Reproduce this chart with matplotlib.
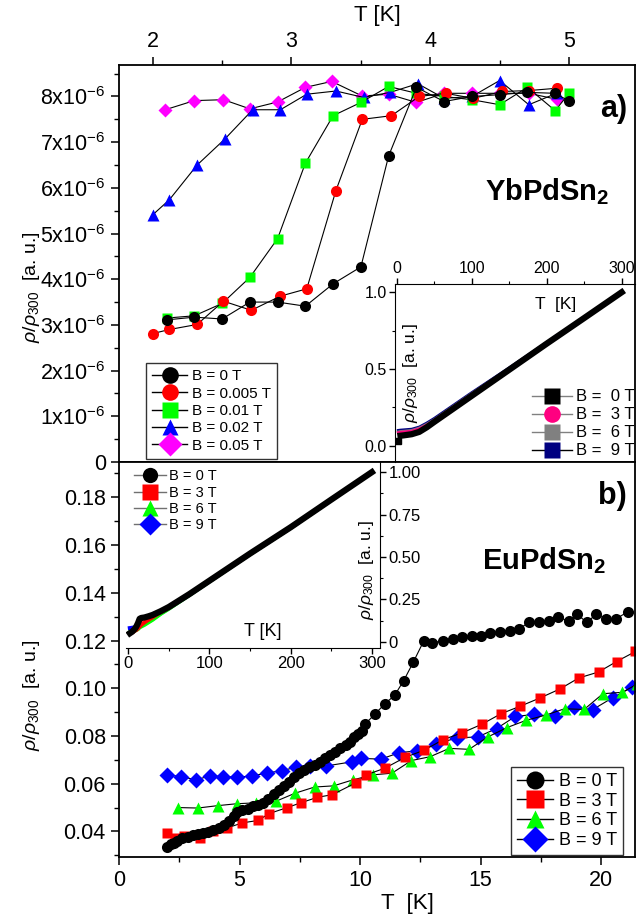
import numpy as np
import matplotlib
matplotlib.use("Agg")
import matplotlib.pyplot as plt
from matplotlib.ticker import MultipleLocator, FuncFormatter
from matplotlib.lines import Line2D

plt.rcParams['font.family'] = ['Liberation Sans', 'DejaVu Sans']
plt.rcParams['mathtext.fontset'] = 'custom'
plt.rcParams['mathtext.rm'] = 'Liberation Sans'
plt.rcParams['mathtext.it'] = 'Liberation Sans:italic'
plt.rcParams['mathtext.bf'] = 'Liberation Sans:bold'

# ---- YbPdSn2, low T (units of 1e-6)
T_a0 = [2.1, 2.3, 2.5, 2.7, 2.9, 3.1, 3.3, 3.5, 3.7, 3.9, 4.1, 4.3, 4.5, 4.7, 4.9, 5.0]
r_a0 = [3.11, 3.17, 3.13, 3.50, 3.50, 3.41, 3.90, 4.27, 6.70, 8.20, 7.89, 8.00, 8.04, 8.09, 8.07, 7.90]
T_a005 = [2.0, 2.12, 2.32, 2.51, 2.71, 2.92, 3.11, 3.32, 3.51, 3.72, 3.92, 4.11, 4.31, 4.52, 4.71, 4.91]
r_a005 = [2.81, 2.90, 3.01, 3.52, 3.32, 3.63, 3.79, 5.94, 7.50, 7.58, 8.00, 8.07, 7.96, 8.11, 8.13, 8.18]
T_a01 = [2.1, 2.3, 2.5, 2.7, 2.9, 3.1, 3.3, 3.5, 3.7, 3.9, 4.1, 4.3, 4.5, 4.7, 4.9, 5.0]
r_a01 = [3.15, 3.20, 3.47, 4.04, 4.89, 6.54, 7.58, 7.87, 8.22, 8.07, 8.00, 7.93, 7.82, 8.20, 7.69, 8.07]
T_a02 = [2.0, 2.12, 2.32, 2.52, 2.72, 2.92, 3.11, 3.32, 3.52, 3.71, 3.91, 4.1, 4.3, 4.5, 4.71, 4.91]
r_a02 = [5.41, 5.74, 6.50, 7.07, 7.71, 7.71, 8.05, 8.12, 7.98, 8.09, 8.28, 7.96, 8.00, 8.35, 7.82, 8.07]
T_a05 = [2.09, 2.3, 2.51, 2.7, 2.9, 3.1, 3.29, 3.51, 3.7, 3.9, 4.1, 4.3, 4.5, 4.71, 4.91]
r_a05 = [7.71, 7.91, 7.93, 7.73, 7.88, 8.20, 8.33, 8.01, 8.05, 7.87, 8.07, 8.07, 8.07, 8.07, 7.94]
labels_a = ["B = 0 T", "B = 0.005 T", "B = 0.01 T", "B = 0.02 T", "B = 0.05 T"]

# ---- YbPdSn2 inset, 0-300 K
T_ia = [2, 5, 10, 20, 30, 40, 50, 75, 100, 150, 200, 250, 300]
r_ia0 = [0.03, 0.065, 0.068, 0.075, 0.09, 0.12, 0.155, 0.24, 0.325, 0.495, 0.665, 0.832, 1.0]
r_ia3 = [0.085, 0.088, 0.09, 0.095, 0.11, 0.135, 0.165, 0.25, 0.335, 0.5, 0.668, 0.834, 1.0]
r_ia6 = [0.09, 0.093, 0.095, 0.1, 0.115, 0.14, 0.17, 0.255, 0.34, 0.503, 0.67, 0.835, 1.0]
r_ia9 = [0.1, 0.102, 0.104, 0.108, 0.122, 0.148, 0.178, 0.262, 0.346, 0.508, 0.673, 0.837, 1.0]
labels_ia = ["B =  0 T", "B =  3 T", "B =  6 T", "B =  9 T"]

# ---- EuPdSn2, low T
T_b0 = [1.99, 2.14, 2.28, 2.42, 2.63, 2.85, 3.06, 3.27, 3.49, 3.70, 3.91, 4.13, 4.34, 4.56,
        4.77, 4.91, 5.12, 5.34, 5.55, 5.77, 5.98, 6.19, 6.41, 6.62, 6.83, 7.05, 7.26, 7.47,
        7.69, 7.90, 8.11, 8.33, 8.54, 8.75, 8.97, 9.18, 9.40, 9.58, 9.75, 9.92, 10.06, 10.2,
        10.6, 11.03, 11.43, 11.81, 12.2, 12.63, 13.0, 13.45, 13.85, 14.24, 14.66, 15.0, 15.4,
        15.8, 16.2, 16.6, 17.0, 17.4, 17.84, 18.2, 18.65, 19.0, 19.4, 19.8, 20.2, 20.6, 21.1]
r_b0 = [0.0336, 0.0346, 0.0353, 0.0360, 0.0371, 0.0378, 0.0383, 0.0390, 0.0394, 0.0397,
        0.0406, 0.0414, 0.0428, 0.0443, 0.0464, 0.0480, 0.0489, 0.0496, 0.0505, 0.0512,
        0.0519, 0.0536, 0.0558, 0.0575, 0.0591, 0.0608, 0.0626, 0.0644, 0.0658, 0.0669,
        0.0680, 0.0692, 0.0706, 0.0720, 0.0734, 0.0748, 0.0762, 0.0776, 0.0794, 0.0807,
        0.0821, 0.0849, 0.089, 0.0935, 0.097, 0.1032, 0.1108, 0.1196, 0.119, 0.120, 0.1207,
        0.1214, 0.122, 0.122, 0.123, 0.1237, 0.124, 0.1249, 0.1276, 0.1276, 0.1283, 0.130,
        0.128, 0.131, 0.1276, 0.131, 0.129, 0.129, 0.132]
T_b3 = [1.99, 2.32, 2.71, 3.35, 3.9, 4.5, 5.12, 5.77, 6.23, 6.98, 7.54, 8.23, 8.85, 9.85,
        10.25, 11.03, 11.86, 12.67, 13.45, 14.23, 15.05, 15.84, 16.65, 17.48, 18.29, 19.07,
        19.89, 20.64, 21.42]
r_b3 = [0.0392, 0.0374, 0.038, 0.0371, 0.040, 0.0415, 0.0436, 0.0446, 0.0475, 0.050, 0.052,
        0.0543, 0.0554, 0.0605, 0.0637, 0.0665, 0.071, 0.0741, 0.0785, 0.0813, 0.0849,
        0.0893, 0.0925, 0.096, 0.0997, 0.1043, 0.1068, 0.1112, 0.1154]
T_b6 = [2.46, 3.27, 4.09, 4.88, 5.7, 6.5, 7.3, 8.11, 8.9, 9.7, 10.53, 11.32, 12.13, 12.9,
        13.7, 14.52, 15.3, 16.09, 16.9, 17.69, 18.48, 19.29, 20.07, 20.88, 21.5]
r_b6 = [0.050, 0.0498, 0.0508, 0.0516, 0.052, 0.0526, 0.056, 0.0586, 0.0591, 0.0616, 0.0637,
        0.0644, 0.0697, 0.0713, 0.0748, 0.0744, 0.0796, 0.0835, 0.0866, 0.0887, 0.0914,
        0.0911, 0.0977, 0.0983, 0.1018]
T_b9 = [1.99, 2.56, 3.2, 3.77, 4.31, 4.91, 5.52, 6.12, 6.76, 7.36, 7.94, 8.58, 9.68, 10.04,
        10.86, 11.63, 12.38, 13.14, 14.02, 14.88, 15.66, 16.44, 17.22, 18.08, 18.86, 19.64,
        20.47, 21.28]
r_b9 = [0.0637, 0.063, 0.0616, 0.0633, 0.063, 0.0627, 0.0633, 0.0644, 0.0655, 0.0669, 0.0674,
        0.0674, 0.0692, 0.0706, 0.0703, 0.073, 0.0738, 0.0766, 0.0792, 0.0796, 0.0831, 0.0882,
        0.089, 0.0882, 0.0921, 0.091, 0.096, 0.1004]
labels_b = ["B = 0 T", "B = 3 T", "B = 6 T", "B = 9 T"]

# ---- EuPdSn2 inset, 0-300 K
T_ib = [2, 5, 8, 10, 12, 14, 16, 20, 25, 30, 40, 50, 75, 100, 150, 200, 250, 300]
r_ib0 = [0.05, 0.06, 0.075, 0.09, 0.11, 0.135, 0.14, 0.143, 0.15, 0.158, 0.18, 0.205, 0.28, 0.36, 0.52, 0.675, 0.838, 1.0]
r_ib3 = [0.05, 0.055, 0.065, 0.07, 0.08, 0.09, 0.1, 0.115, 0.13, 0.145, 0.175, 0.2, 0.278, 0.358, 0.518, 0.673, 0.837, 1.0]
r_ib6 = [0.055, 0.06, 0.065, 0.07, 0.075, 0.085, 0.09, 0.1, 0.115, 0.13, 0.165, 0.195, 0.275, 0.356, 0.517, 0.672, 0.836, 1.0]
r_ib9 = [0.08, 0.082, 0.085, 0.088, 0.092, 0.097, 0.1, 0.108, 0.12, 0.135, 0.168, 0.197, 0.276, 0.357, 0.518, 0.673, 0.837, 1.0]

ylab = r'$\rho/\rho_{300}$  [a. u.]'

fig = plt.figure(figsize=(6.37, 9.19), dpi=100)
ax1 = fig.add_axes([0.1868, 0.4973, 0.810, 0.432])
ax2 = fig.add_axes([0.1868, 0.0675, 0.810, 0.4298])

# ---------------- panel a
ax1.plot(T_a05, np.array(r_a05) * 1e-6, color='black', lw=0.8, marker='D', mfc='#ff00ff', mec='none', ms=7)
ax1.plot(T_a02, np.array(r_a02) * 1e-6, color='black', lw=0.8, marker='^', mfc='#0000ff', mec='none', ms=8)
ax1.plot(T_a01, np.array(r_a01) * 1e-6, color='black', lw=0.8, marker='s', mfc='#00ff00', mec='none', ms=7.5)
ax1.plot(T_a005, np.array(r_a005) * 1e-6, color='black', lw=0.8, marker='o', mfc='#ff0000', mec='none', ms=8)
ax1.plot(T_a0, np.array(r_a0) * 1e-6, color='black', lw=0.8, marker='o', mfc='black', mec='none', ms=8)
ax1.set_xlim(1.757, 5.475)
ax1.set_ylim(0, 8.69e-6)
ax1.xaxis.tick_top()
ax1.xaxis.set_label_position('top')
ax1.xaxis.set_major_locator(MultipleLocator(1))
ax1.xaxis.set_minor_locator(MultipleLocator(0.5))
ax1.yaxis.set_major_locator(MultipleLocator(1e-6))
ax1.yaxis.set_minor_locator(MultipleLocator(0.5e-6))
ax1.yaxis.set_major_formatter(FuncFormatter(
    lambda v, p: '0' if abs(v) < 1e-9 else r'%dx10$^{\mathregular{-6}}$' % round(v * 1e6)))
ax1.set_xlabel('T [K]', fontsize=16, labelpad=7)

mk_a = [('o', 'black'), ('o', '#ff0000'), ('s', '#00ff00'), ('^', '#0000ff'), ('D', '#ff00ff')]
h_a = [Line2D([], [], color='black', lw=1, marker=m, mfc=c, mec='none', ms=12) for m, c in mk_a]
leg = ax1.legend(h_a, labels_a, loc='lower left', bbox_to_anchor=(0.052, 0.008), borderaxespad=0,
                 fontsize=11, frameon=True, fancybox=False, edgecolor='black', handlelength=2.3,
                 handletextpad=0.3, labelspacing=0.22, borderpad=0.4)
leg.get_frame().set_linewidth(1.0)
ax1.text(0.985, 0.89, 'a)', transform=ax1.transAxes, ha='right', va='center', fontsize=22, fontweight='bold')
ax1.text(0.83, 0.68, r'YbPdSn$_\mathbf{2}$', transform=ax1.transAxes, ha='center', va='center',
         fontsize=21, fontweight='bold')

# ---------------- panel b
ax2.plot(T_b9, r_b9, color='black', lw=0.8, marker='D', mfc='#0000ff', mec='none', ms=8)
ax2.plot(T_b6, r_b6, color='black', lw=0.8, marker='^', mfc='#00ff00', mec='none', ms=8.5)
ax2.plot(T_b3, r_b3, color='black', lw=0.8, marker='s', mfc='#ff0000', mec='none', ms=7.5)
ax2.plot(T_b0, r_b0, color='black', lw=0.8, marker='o', mfc='black', mec='none', ms=8)
ax2.set_xlim(0, 21.4)
ax2.set_ylim(0.0293, 0.1948)
ax2.xaxis.set_major_locator(MultipleLocator(5))
ax2.xaxis.set_minor_locator(MultipleLocator(2.5))
ax2.yaxis.set_major_locator(MultipleLocator(0.02))
ax2.yaxis.set_minor_locator(MultipleLocator(0.01))
ax2.yaxis.set_major_formatter(FuncFormatter(lambda v, p: '%.2f' % v))
ax2.set_xlabel('T  [K]', fontsize=16, labelpad=2)
ax2.xaxis.set_label_coords(0.56, -0.09)

mk_b = [('o', 'black'), ('s', '#ff0000'), ('^', '#00ff00'), ('D', '#0000ff')]
h_b = [Line2D([], [], color='black', lw=1, marker=m, mfc=c, mec='none', ms=13) for m, c in mk_b]
leg2 = ax2.legend(h_b, labels_b, loc='lower right', bbox_to_anchor=(0.977, 0.004), borderaxespad=0,
                  fontsize=13, frameon=True, fancybox=False, edgecolor='black', handlelength=2.0,
                  handletextpad=0.3, labelspacing=0.15, borderpad=0.35)
leg2.get_frame().set_linewidth(1.0)
ax2.text(0.985, 0.915, 'b)', transform=ax2.transAxes, ha='right', va='center', fontsize=22, fontweight='bold')
ax2.text(0.825, 0.75, r'EuPdSn$_\mathbf{2}$', transform=ax2.transAxes, ha='center', va='center',
         fontsize=21, fontweight='bold')

for ax in (ax1, ax2):
    for s in ax.spines.values():
        s.set_linewidth(1.3)
    ax.tick_params(which='major', direction='out', length=6, width=1.1, labelsize=15.5)
    ax.tick_params(which='minor', direction='out', length=3.5, width=1.0)
    ax.set_ylabel(ylab, fontsize=14)
ax1.yaxis.set_label_coords(-0.15, 0.44)
ax2.yaxis.set_label_coords(-0.15, 0.41)
ax1.tick_params(axis='x', which='both', top=True, bottom=False)

# ---------------- inset a
ia = fig.add_axes([0.6201, 0.4973, 0.3768, 0.1937])
ia.patch.set_alpha(0)
ia.plot(T_ia, r_ia9, color='#000080', lw=2)
ia.plot(T_ia, r_ia6, color='#808080', lw=2)
ia.plot(T_ia, r_ia3, color='#ff0080', lw=2)
ia.plot(T_ia[1:], r_ia0[1:], color='black', lw=4.5)
ia.plot(T_ia[:1], r_ia0[:1], 's', color='black', ms=5)
ia.set_xlim(-2.3, 317.8)
ia.set_ylim(-0.106, 1.054)
ia.spines['right'].set_visible(False)
ia.spines['bottom'].set_visible(False)
ia.xaxis.tick_top()
ia.xaxis.set_major_locator(MultipleLocator(100))
ia.xaxis.set_minor_locator(MultipleLocator(50))
ia.yaxis.set_major_locator(MultipleLocator(0.5))
ia.yaxis.set_minor_locator(MultipleLocator(0.25))
ia.tick_params(which='major', direction='out', length=4, width=1, labelsize=11.5, pad=2)
ia.tick_params(which='minor', direction='out', length=2.5, width=0.8)
ia.text(0.67, 0.885, 'T  [K]', transform=ia.transAxes, ha='center', va='center', fontsize=12.5)
ia.text(0.065, 0.5, ylab, transform=ia.transAxes, ha='center', va='center', rotation=90, fontsize=12.5)
mk_ia = [('s', 'black', '#808080'), ('o', '#ff0080', '#808080'), ('s', '#808080', '#808080'), ('s', '#000080', 'black')]
h_ia = [Line2D([], [], color=lc, lw=1, marker=m, mfc=c, mec='none', ms=12) for m, c, lc in mk_ia]
ia.legend(h_ia, labels_ia, loc='lower right', bbox_to_anchor=(1.0, 0.02), borderaxespad=0, frameon=False,
          fontsize=12, handlelength=2.4, handletextpad=0.25, labelspacing=0.18, borderpad=0)

# ---------------- inset b
ib = fig.add_axes([0.1978, 0.2949, 0.3987, 0.2024])
ib.patch.set_alpha(0)
ib.plot(T_ib, r_ib9, color='#0000ff', lw=3)
ib.plot(T_ib, r_ib6, color='#00ff00', lw=3)
ib.plot(T_ib, r_ib3, color='#ff0000', lw=3)
ib.plot(T_ib, r_ib0, color='black', lw=4.5)
ib.set_xlim(-2.8, 310)
ib.set_ylim(-0.037, 1.06)
ib.spines['left'].set_visible(False)
ib.spines['top'].set_visible(False)
ib.yaxis.tick_right()
ib.xaxis.set_major_locator(MultipleLocator(100))
ib.xaxis.set_minor_locator(MultipleLocator(50))
ib.yaxis.set_major_locator(MultipleLocator(0.25))
ib.yaxis.set_minor_locator(MultipleLocator(0.125))
ib.yaxis.set_major_formatter(FuncFormatter(lambda v, p: '0' if abs(v) < 1e-9 else '%.2f' % v))
ib.tick_params(which='major', direction='out', length=4, width=1, labelsize=12, pad=2)
ib.tick_params(which='minor', direction='out', length=2.5, width=0.8)
ib.text(0.54, 0.09, 'T [K]', transform=ib.transAxes, ha='center', va='center', fontsize=13)
ib.text(0.945, 0.42, ylab, transform=ib.transAxes, ha='center', va='center', rotation=90, fontsize=12.5)
h_ib = [Line2D([], [], color='#707070', lw=1, marker=m, mfc=c, mec='none', ms=11) for m, c in mk_b]
ib.legend(h_ib, labels_b, loc='upper left', bbox_to_anchor=(0.03, 0.96), borderaxespad=0, frameon=False,
          fontsize=10.5, handlelength=2.2, handletextpad=0.25, labelspacing=0.15, borderpad=0)

fig.savefig('out.png', dpi=100)
